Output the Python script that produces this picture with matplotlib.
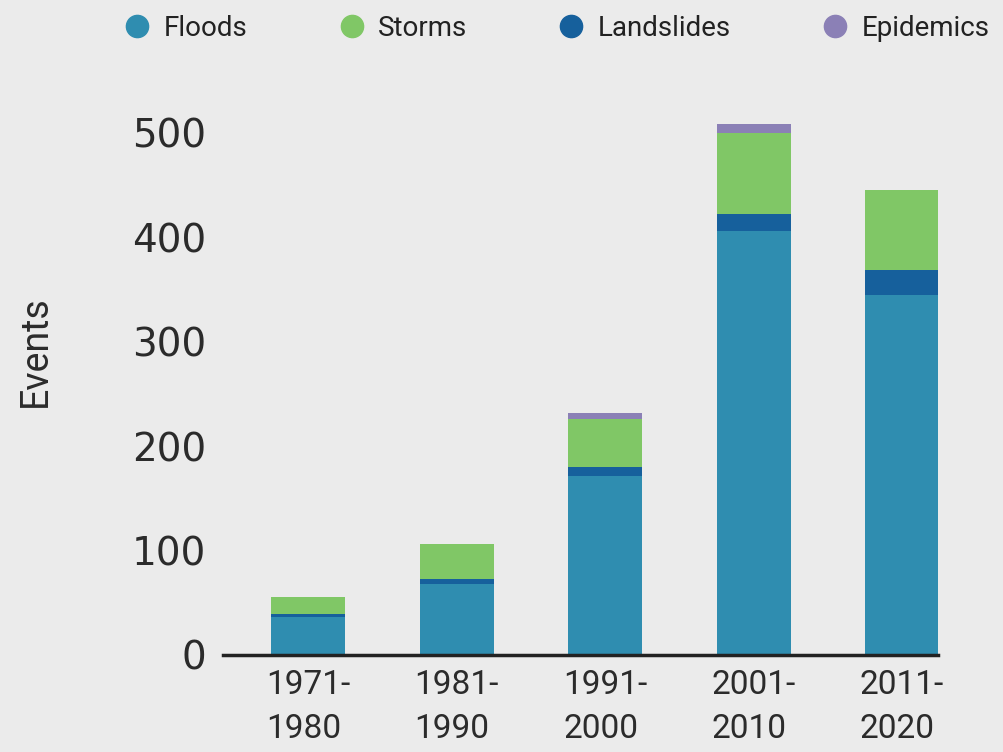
import matplotlib
matplotlib.use("Agg")
import matplotlib.pyplot as plt
from matplotlib.lines import Line2D
import numpy as np

# decades and event counts per hazard type (stacked)
decades = ["1971-\n1980", "1981-\n1990", "1991-\n2000", "2001-\n2010", "2011-\n2020"]
floods = [36, 68, 171, 406, 345]
landslides = [3, 5, 9, 16, 24]
storms = [17, 33, 46, 78, 76]
epidemics = [0, 0, 6, 9, 0]

series = ["Floods", "Storms", "Landslides", "Epidemics"]
colors = {"Floods": "#2f8db0", "Storms": "#80c766",
          "Landslides": "#16609c", "Epidemics": "#8b80b6"}

bg = "#ebebeb"
narrow = ["Roboto", "DejaVu Sans"]

fig = plt.figure(figsize=(10.04, 7.52), dpi=100, facecolor=bg)
ax = fig.add_axes([0.2221, 0.129, 0.7119, 0.722])
ax.set_facecolor(bg)

x = np.arange(len(decades))
w = 0.5
bottom = np.zeros(len(decades))
# stacking order bottom->top: floods, landslides, storms, epidemics
for name, vals in [("Floods", floods), ("Landslides", landslides),
                   ("Storms", storms), ("Epidemics", epidemics)]:
    vals = np.array(vals, dtype=float)
    ax.bar(x, vals, w, bottom=bottom, color=colors[name], linewidth=0)
    bottom += vals

ax.set_xlim(-0.575, 4.24)
ax.set_ylim(0, 520)

for s in ["top", "right", "left"]:
    ax.spines[s].set_visible(False)
ax.spines["bottom"].set_linewidth(2.5)
ax.spines["bottom"].set_color("#222222")

ax.set_yticks([0, 100, 200, 300, 400, 500])
ax.tick_params(axis="y", length=0, pad=12, labelsize=28, labelcolor="#2b2b2b")
for lab in ax.get_yticklabels():
    lab.set_family("DejaVu Sans")

ax.set_xticks(x)
ax.set_xticklabels(decades, family=narrow, fontsize=24, color="#2b2b2b",
                   multialignment="left", linespacing=1.5)
ax.tick_params(axis="x", length=0, pad=10)

fig.text(0.035, 0.533, "Events", rotation=90, ha="center", va="center",
         fontsize=27, family=narrow, color="#2b2b2b")

handles = [Line2D([], [], marker="o", linestyle="none", markersize=16,
                  markerfacecolor=colors[n], markeredgecolor=colors[n])
           for n in series]
fig.legend(handles, series, loc="center left", bbox_to_anchor=(0.098, 0.962),
           ncol=4, frameon=False, prop={"family": narrow, "size": 20},
           handletextpad=0.45, columnspacing=3.25, handlelength=1.0,
           labelcolor="#222222")

fig.savefig("out.png", dpi=100, facecolor=bg)
